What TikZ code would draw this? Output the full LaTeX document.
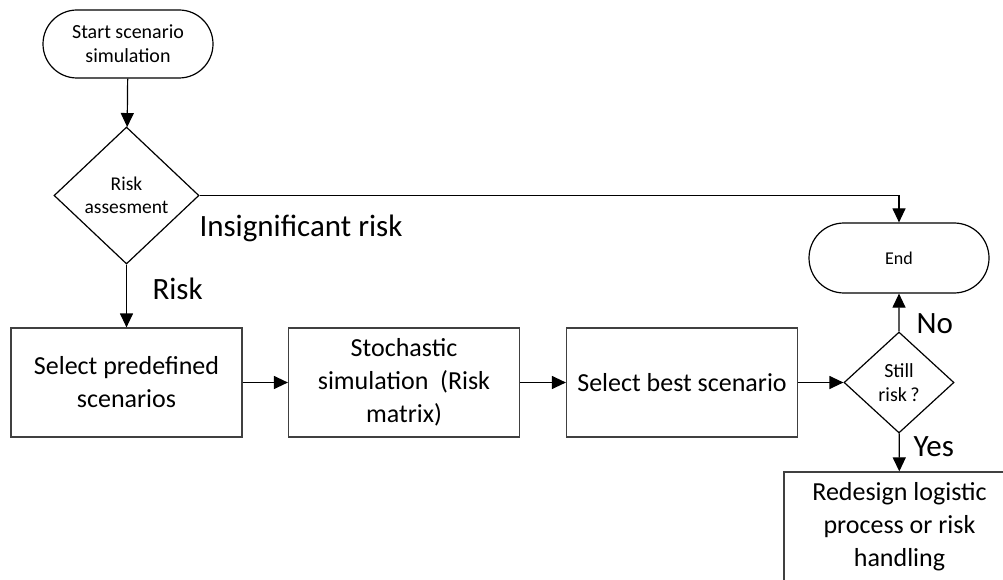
\documentclass[tikz,border=0pt]{standalone}
\usepackage{fontspec}
\setmainfont{Carlito}
\usetikzlibrary{
  arrows.meta,
  shapes.geometric,
  shapes.misc
}
\definecolor{flowInk}{HTML}{000000}
\definecolor{flowEdge}{HTML}{404040}
\tikzset{
  every node/.style={text=flowInk, align=center},
  terminal/.style={
    rounded rectangle,
    draw=flowInk,
    line width=1.2pt,
    minimum width=174pt,
    minimum height=68pt,
    inner sep=2pt,
    font=\fontsize{20}{24}\selectfont
  },
  decision/.style={
    diamond,
    draw=flowInk,
    line width=1.2pt,
    inner sep=0pt,
    font=\fontsize{19.5}{23}\selectfont
  },
  process/.style={
    rectangle,
    draw=flowEdge,
    line width=1.2pt,
    minimum width=231pt,
    minimum height=109pt,
    inner sep=4pt,
    font=\fontsize{26}{33}\selectfont
  },
  branch/.style={font=\fontsize{31}{36}\selectfont, anchor=west},
  link/.style={
    -{Triangle[length=14pt,width=13pt]},
    line width=1.2pt,
    draw=flowInk
  }
}

\begin{document}
\begin{tikzpicture}[x=1pt,y=1pt]
  \path[use as bounding box] (0,0) rectangle (1003,579);
  \clip (0,0) rectangle (1003,579);

  \node[terminal] (start) at (128,535) {Start scenario\\simulation};
  \node[decision, minimum width=145pt, minimum height=137pt] (assess) at (126.5,383.5)
    {Risk\\assesment};
  \node[terminal, minimum width=184pt, minimum height=70pt, font=\fontsize{18}{22}\selectfont]
    (finish) at (899,321) {End};

  \node[process] (predef) at (126.5,196.5) {Select predefined\\scenarios};
  \node[process] (stoch) at (404,196.5) {Stochastic\\simulation\ \ (Risk\\matrix)};
  \node[process] (best) at (682,196.5) {Select best scenario};
  \node[decision, minimum width=110pt, minimum height=101pt, font=\fontsize{20}{24}\selectfont]
    (still) at (899,196.5) {Still\\risk\,?};
  \node[process] (redesign) at (899.5,52.5)
    {Redesign logistic\\process or risk\\handling};

  \draw[link] (start) -- (assess);
  \draw[link] (assess.east) -- (finish.north |- assess.east) -- (finish.north);
  \draw[link] (assess) -- (predef);
  \draw[link] (predef) -- (stoch);
  \draw[link] (stoch) -- (best);
  \draw[link] (best) -- (still);
  \draw[link] (still) -- (finish);
  \draw[link] (still) -- (redesign);

  \node[branch] (lblins) at (196,351) {Insignificant risk};
  \node[branch] (lblrisk) at (149,290) {Risk};
  \node[branch] (lblno) at (913,255) {No};
  \node[branch] (lblyes) at (910,132) {Yes};
\end{tikzpicture}
\end{document}
